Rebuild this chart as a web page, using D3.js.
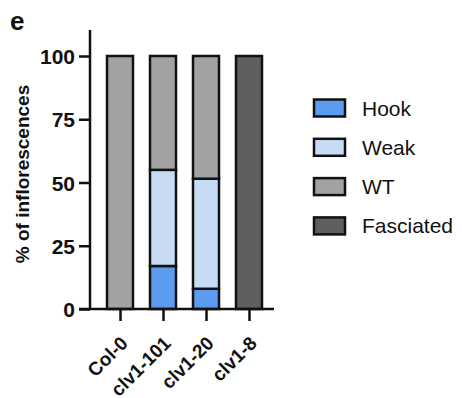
<!DOCTYPE html>
<html>
<head>
<meta charset="utf-8">
<script src="https://cdn.jsdelivr.net/npm/d3@7"></script>
<style>
  body { margin: 0; background: #fff; }
  text { font-family: "Liberation Sans", Arial, sans-serif; }
</style>
</head>
<body>
<svg id="chart" width="462" height="398"></svg>
<script>
var categories = ["Col-0", "clv1-101", "clv1-20", "clv1-8"];
var seriesNames = ["Hook", "Weak", "WT", "Fasciated"];
var hook = [0, 17, 8, 0];
var weak = [0, 38, 43.5, 0];
var wt = [100, 45, 48.5, 0];
var fasciated = [0, 0, 0, 100];
var yTicks = [0, 25, 50, 75, 100];
var colors = ["#5b9bf0", "#c8dbf5", "#a2a2a2", "#5f5f5f"];

var svg = d3.select("#chart");

var x = d3.scalePoint()
	.domain(categories)
	.range([120, 249]);
var y = d3.scaleLinear()
	.domain([0, 100])
	.range([309, 56]);

var barW = 26;

var table = categories.map(function (c, i) {
	return { cat: c, Hook: hook[i], Weak: weak[i], WT: wt[i], Fasciated: fasciated[i] };
});
var stacked = d3.stack().keys(seriesNames)(table);

// bars
svg.append("g").selectAll("g")
	.data(stacked)
	.join("g")
	.attr("fill", function (d, i) { return colors[i]; })
	.selectAll("rect")
	.data(function (d) { return d.filter(function (p) { return p[1] - p[0] > 0; }); })
	.join("rect")
	.attr("x", function (d) { return x(d.data.cat) - barW / 2; })
	.attr("y", function (d) { return y(d[1]); })
	.attr("width", barW)
	.attr("height", function (d) { return y(d[0]) - y(d[1]); })
	.attr("stroke", "#111")
	.attr("stroke-width", 2.5);

// y axis
var yAxis = svg.append("g")
	.attr("transform", "translate(90,0)")
	.call(d3.axisLeft(y).tickValues(yTicks).tickSize(11).tickPadding(4));
yAxis.select(".domain").remove();
yAxis.append("line")
	.attr("x1", 0).attr("x2", 0)
	.attr("y1", 30).attr("y2", 309)
	.attr("stroke", "#111").attr("stroke-width", 2.5);
yAxis.selectAll(".tick line").attr("stroke", "#111").attr("stroke-width", 2.5);
yAxis.selectAll(".tick text")
	.attr("fill", "#111")
	.style("font-size", "21px")
	.style("font-weight", "bold")
	.attr("dy", "0.36em");

// x axis
var xAxis = svg.append("g")
	.attr("transform", "translate(0,309)")
	.call(d3.axisBottom(x).tickSize(12).tickSizeOuter(0));
xAxis.select(".domain").remove();
xAxis.append("line")
	.attr("x1", 79).attr("x2", 274)
	.attr("stroke", "#111").attr("stroke-width", 2.5);
xAxis.selectAll(".tick line").attr("stroke", "#111").attr("stroke-width", 2.5);
xAxis.selectAll(".tick text")
	.attr("fill", "#111")
	.style("font-size", "19px")
	.style("font-weight", "bold")
	.attr("text-anchor", "end")
	.attr("dy", "0.7em")
	.attr("transform", "translate(-1,26) rotate(-45)")
	.attr("x", 0).attr("y", 0);

// y label
svg.append("text")
	.attr("transform", "translate(29,174) rotate(-90)")
	.attr("text-anchor", "middle")
	.style("font-size", "19px")
	.style("font-weight", "bold")
	.attr("fill", "#111")
	.text("% of inflorescences");

// panel letter
svg.append("text")
	.attr("x", 10).attr("y", 30)
	.style("font-size", "26px")
	.style("font-weight", "bold")
	.attr("fill", "#111")
	.text("e");

// legend
var legend = svg.append("g").selectAll("g")
	.data(seriesNames)
	.join("g")
	.attr("transform", function (d, i) { return "translate(314," + (99.5 + i * 39.3) + ")"; });
legend.append("rect")
	.attr("width", 31).attr("height", 17)
	.attr("fill", function (d, i) { return colors[i]; })
	.attr("stroke", "#111").attr("stroke-width", 2.5);
legend.append("text")
	.attr("x", 48).attr("y", 8.5)
	.attr("dy", "0.36em")
	.style("font-size", "21px")
	.attr("fill", "#111")
	.text(function (d) { return d; });
</script>
</body>
</html>
